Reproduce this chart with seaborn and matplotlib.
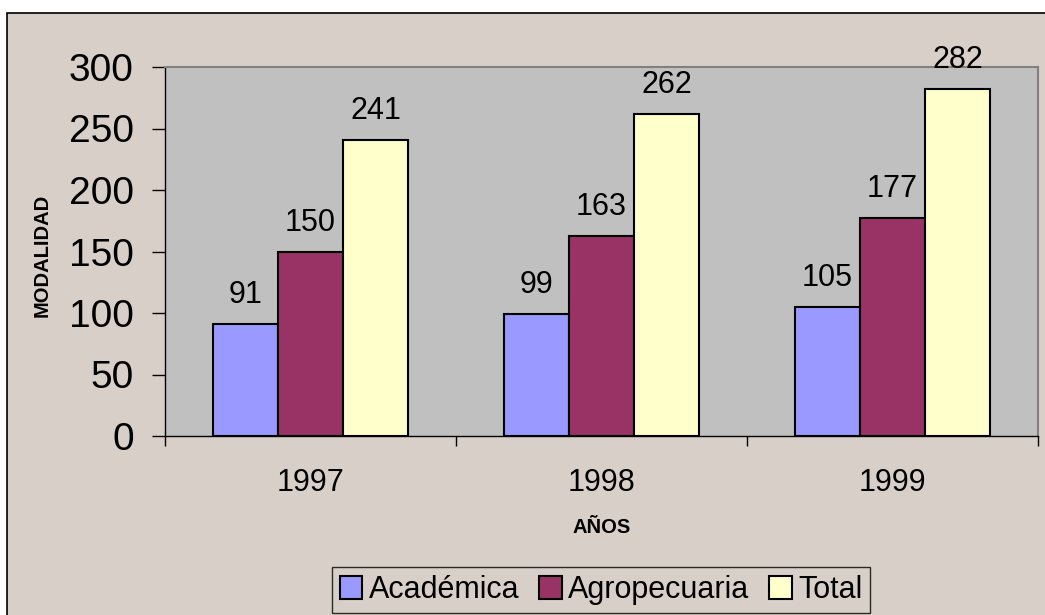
import pandas as pd
import matplotlib.pyplot as plt
import seaborn as sns
from matplotlib.patches import Rectangle

# data
years = ["1997", "1998", "1999"]
academica = [91, 99, 105]
agropecuaria = [150, 163, 177]
total = [241, 262, 282]
series = ["Académica", "Agropecuaria", "Total"]
colors = ["#9999FF", "#993366", "#FFFFCC"]

df = pd.DataFrame({
    "year": years * 3,
    "serie": [s for s in series for _ in years],
    "value": academica + agropecuaria + total,
})

sns.set_style("white")
plt.rcParams["font.family"] = ["Liberation Sans", "DejaVu Sans"]
plt.rcParams["text.color"] = "black"
plt.rcParams["axes.labelcolor"] = "black"
plt.rcParams["xtick.color"] = "black"
plt.rcParams["ytick.color"] = "black"

fig = plt.figure(figsize=(10.45, 6.15), dpi=100)
fig.patch.set_facecolor("white")
# chart area background
fig.patches.append(Rectangle((7 / 1045, -0.01), 1.0, 1 - 13 / 615 + 0.01,
                             transform=fig.transFigure, facecolor="#D8D0C8",
                             edgecolor="black", linewidth=1.2, zorder=-5))

ax = fig.add_axes([165 / 1045, 1 - 436 / 615, 873 / 1045, 369 / 615])
ax.set_facecolor("#C0C0C0")

sns.barplot(data=df, x="year", y="value", hue="serie", palette=colors,
            saturation=1, width=0.67, edgecolor="black", linewidth=1.5,
            ax=ax, legend=True)

for cont in ax.containers:
    ax.bar_label(cont, padding=10, fontsize=22, color="black")

ax.set_ylim(0, 300)
ax.set_xlim(-0.5, 2.5)
ax.set_yticks(range(0, 301, 50))
ax.tick_params(axis="y", labelsize=28, length=9.5, width=1, direction="out",
               left=True, pad=13)
ax.set_xticks([-0.5, 0.5, 1.5, 2.5], minor=True)
ax.tick_params(axis="x", which="minor", length=7.5, width=1, direction="out", bottom=True)
ax.tick_params(axis="x", which="major", length=0, labelsize=22, pad=23)

for side in ["top", "right"]:
    ax.spines[side].set_color("#808080")
    ax.spines[side].set_linewidth(1.5)
for side in ["left", "bottom"]:
    ax.spines[side].set_color("black")
    ax.spines[side].set_linewidth(1)

ax.set_xlabel("AÑOS", fontsize=14.5, fontweight="bold")
ax.set_ylabel("MODALIDAD", fontsize=14.5, fontweight="bold")
ax.xaxis.set_label_coords(0.5006, -0.247)
ax.yaxis.set_label_coords(-0.141, 0.49)
ax.xaxis.label.set_verticalalignment("center")
ax.yaxis.label.set_verticalalignment("center")

ax.legend(loc="center", bbox_to_anchor=(601 / 1045, 1 - 590 / 615),
          bbox_transform=fig.transFigure, ncol=3, fontsize=22,
          frameon=True, fancybox=False, edgecolor="black", facecolor="#D8D0C8",
          handlelength=0.75, handleheight=0.75, handletextpad=0.2,
          columnspacing=0.65, borderpad=0.25, borderaxespad=0)

fig.savefig("out.png", dpi=100, facecolor=fig.get_facecolor())
